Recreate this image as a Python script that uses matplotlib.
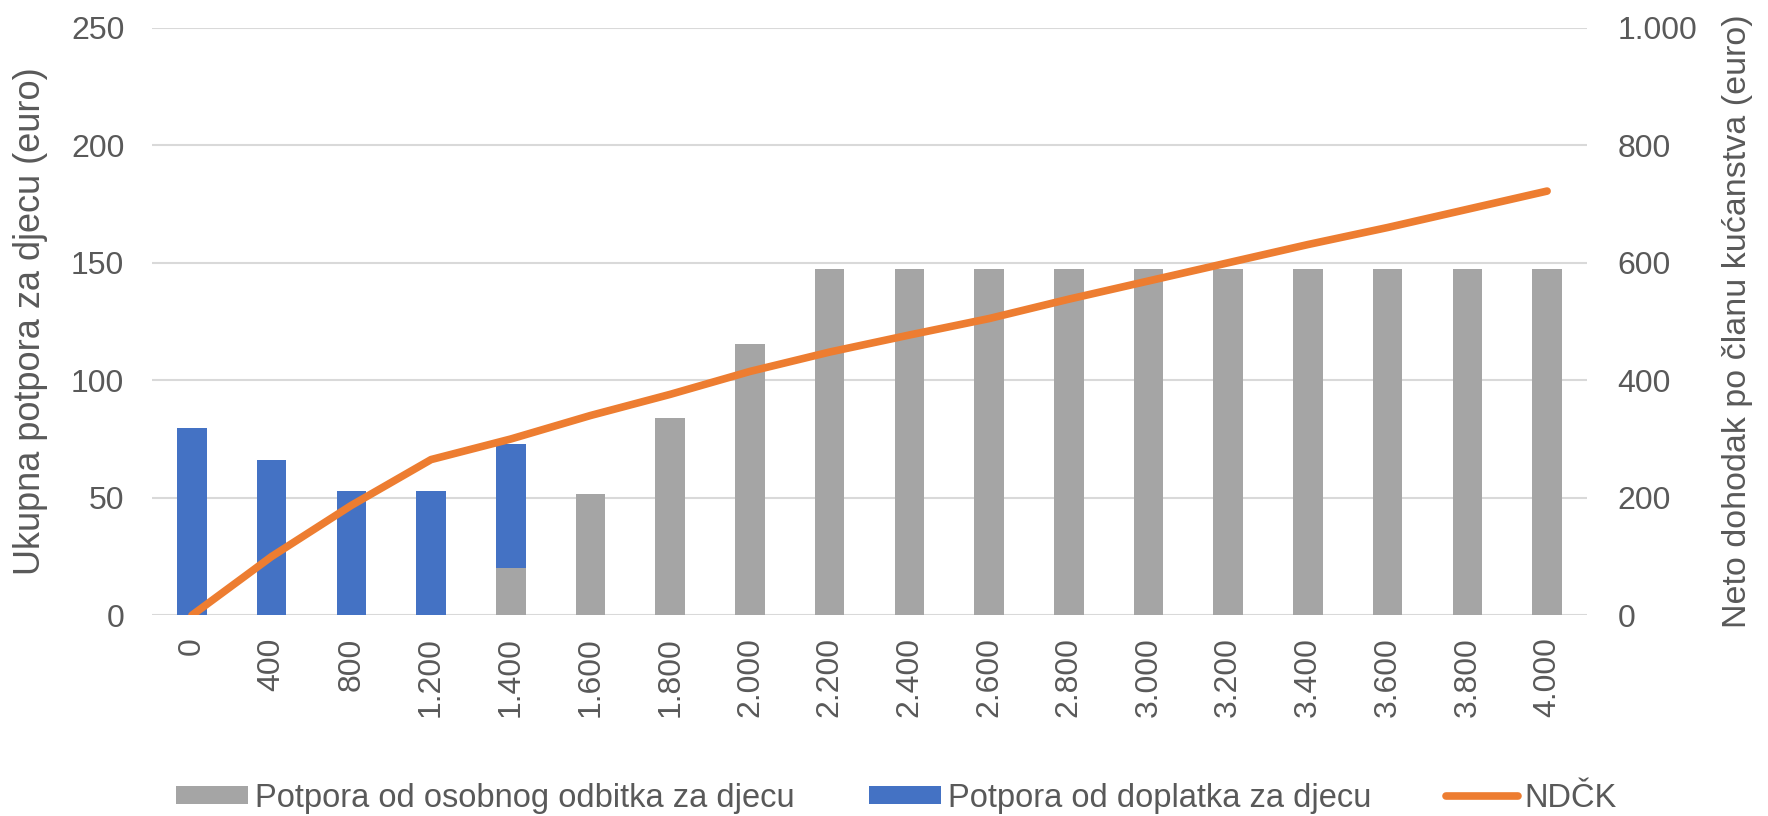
import matplotlib
matplotlib.use("Agg")
import matplotlib.pyplot as plt
from matplotlib.ticker import FuncFormatter

plt.rcParams['font.family'] = ['Liberation Sans', 'DejaVu Sans']

# bruto dohodak (kategorije na x osi)
labels = ["0", "400", "800", "1.200", "1.400", "1.600", "1.800", "2.000", "2.200",
          "2.400", "2.600", "2.800", "3.000", "3.200", "3.400", "3.600", "3.800", "4.000"]
# potpora od osobnog odbitka (euro)
odbitak = [0, 0, 0, 0, 20, 51.5, 83.8, 115.6, 147.3, 147.5, 147.5, 147.5, 147.5,
           147.5, 147.5, 147.5, 147.5, 147.5]
# potpora od doplatka (euro)
doplatak = [79.6, 66.2, 52.9, 52.9, 52.9, 0, 0, 0, 0, 0, 0, 0, 0, 0, 0, 0, 0, 0]
# NDČK (desna os)
ndck = [0, 100, 187, 265, 300, 340, 376, 415, 448, 477, 505, 538, 569, 600, 631, 660,
        691, 722]

GRAY = "#A5A5A5"
BLUE = "#4472C4"
ORANGE = "#ED7D31"
TXT = "#595959"

x = list(range(len(labels)))

fig = plt.figure(figsize=(17.68, 8.16), dpi=100)
ax = fig.add_axes([0.086, 0.246, 0.8116, 0.72])

b1 = ax.bar(x, odbitak, width=0.37, color=GRAY, zorder=2,
            label="Potpora od osobnog odbitka za djecu")
b2 = ax.bar(x, doplatak, width=0.37, bottom=odbitak, color=BLUE, zorder=2,
            label="Potpora od doplatka za djecu")

ax.set_xlim(-0.5, len(labels) - 0.5)
ax.set_ylim(0, 250)
ax.set_yticks(range(0, 251, 50))
ax.grid(axis="y", color="#D9D9D9", lw=1.5, zorder=0)
ax.set_axisbelow(True)
ax.set_xticks(x)
ax.set_xticklabels(labels, rotation=90)
ax.tick_params(axis="x", length=0, pad=16, labelsize=23, labelcolor=TXT)
ax.tick_params(axis="y", length=0, pad=20, labelsize=23, labelcolor=TXT)
for s in ax.spines.values():
    s.set_visible(False)

ax2 = ax.twinx()
ln, = ax2.plot(x, ndck, color=ORANGE, lw=5.5, solid_capstyle="round", zorder=3,
               label="NDČK")
ax2.set_ylim(0, 1000)
ax2.set_yticks(range(0, 1001, 200))
ax2.yaxis.set_major_formatter(FuncFormatter(lambda v, p: f"{int(v):,}".replace(",", ".")))
ax2.tick_params(axis="y", length=0, pad=22, labelsize=23, labelcolor=TXT)
for s in ax2.spines.values():
    s.set_visible(False)

fig.text(0.0175, 0.246 + 0.36, "Ukupna potpora za djecu (euro)", rotation=90,
         ha="center", va="center", fontsize=26, color=TXT)
fig.text(0.983, 0.246 + 0.36, "Neto dohodak po članu kućanstva (euro)", rotation=90,
         ha="center", va="center", fontsize=24.5, color=TXT)

fig.legend(handles=[b1, b2, ln], loc="center", bbox_to_anchor=(0.507, 0.022), ncol=3,
           frameon=False, fontsize=23.5, labelcolor=TXT, handlelength=2.2,
           handleheight=0.5, handletextpad=0.2, columnspacing=2.3)

fig.savefig("out.png", dpi=100)
